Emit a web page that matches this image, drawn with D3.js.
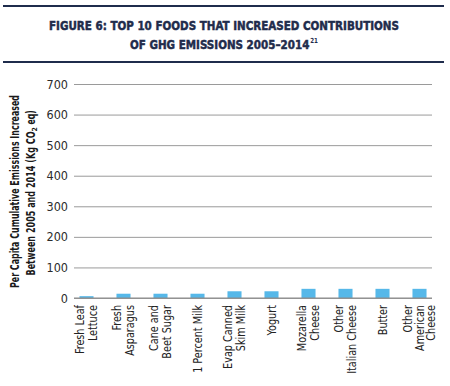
<!DOCTYPE html>
<html>
<head>
<meta charset="utf-8">
<script src="https://cdn.jsdelivr.net/npm/d3@7"></script>
<style>
  body { margin: 0; background: #fff; }
  text { font-family: "DejaVu Sans Condensed", "Liberation Sans Narrow", sans-serif; }
</style>
</head>
<body>
<div id="chart"></div>
<script>
var categories = ['Fresh Leaf\nLettuce', 'Fresh\nAsparagus', 'Cane and\nBeet Sugar', '1 Percent Milk',
    'Evap Canned\nSkim Milk', 'Yogurt', 'Mozarella\nCheese', 'Other\nItalian Cheese', 'Butter',
    'Other\nAmerican\nCheese'];
var values = [6, 14, 14, 14, 22, 22, 30, 30, 30, 30];
var yTicks = [0, 100, 200, 300, 400, 500, 600, 700];

var w = 450;
var h = 386;
var navy = '#1f2c4c';

var svg = d3.select('#chart')
    .append('svg')
        .attr('width', w)
        .attr('height', h);

svg.append('rect').attr('width', w).attr('height', h).style('fill', '#fff');

// title block with rules
svg.selectAll('line.rule')
    .data([6, 62])
    .enter()
    .append('line')
        .attr('x1', 3).attr('x2', 444)
        .attr('y1', d => d).attr('y2', d => d)
        .style('stroke', navy)
        .style('stroke-width', 2);

// squeeze horizontally so the title reads like a condensed face
var title = svg.append('g').attr('transform', 'translate(224,0) scale(0.885,1)');
title.append('text')
    .attr('y', 30)
    .attr('text-anchor', 'middle')
    .style('font-size', '13px').style('font-weight', 'bold').style('fill', navy)
    .style('stroke', navy).style('stroke-width', 0.5)
    .text('FIGURE 6: TOP 10 FOODS THAT INCREASED CONTRIBUTIONS');

var t2 = title.append('text')
    .attr('y', 49)
    .attr('text-anchor', 'middle')
    .style('font-size', '13px').style('font-weight', 'bold').style('fill', navy)
    .style('stroke', navy).style('stroke-width', 0.5);
t2.append('tspan').text('OF GHG EMISSIONS 2005–2014');
t2.append('tspan')
    .attr('dx', 1).attr('dy', -6)
    .style('font-size', '7px').style('stroke-width', 0)
    .text('21');

var x = d3.scaleBand()
    .domain(categories)
    .range([68, 438])
    .paddingInner(0.62)
    .paddingOuter(0.31);

var y = d3.scaleLinear()
    .domain([0, 700])
    .range([298, 84]);

var yAxis = svg.append('g')
    .attr('transform', 'translate(74,0)')
    .call(d3.axisLeft(y).tickValues(yTicks).tickSize(-358).tickPadding(6));
yAxis.select('.domain').remove();
yAxis.selectAll('line').style('stroke', '#9a9a9a');
yAxis.selectAll('text')
    .style('font-size', '12.5px')
    .style('fill', '#2b2b2b');

svg.selectAll('rect.bar')
    .data(values)
    .enter()
    .append('rect')
        .attr('class', 'bar')
        .attr('x', (d, i) => x(categories[i]))
        .attr('y', d => y(d))
        .attr('width', x.bandwidth())
        .attr('height', d => y(0) - y(d))
        .style('fill', '#56b8e9');

svg.append('line')
    .attr('x1', 74).attr('x2', 432)
    .attr('y1', y(0)).attr('y2', y(0))
    .style('stroke', '#8a8a8a');

// category labels, rotated, squeezed a bit to look condensed
categories.forEach(function(c) {
    var lines = c.split('\n');
    var lh = lines.length > 2 ? 11.5 : 13;
    var cx = x(c) + x.bandwidth() / 2;
    lines.forEach(function(l, i) {
        svg.append('text')
            .attr('transform', 'translate(' + (cx + (i - (lines.length - 1) / 2) * lh) + ',305) rotate(-90) scale(0.86,1)')
            .attr('text-anchor', 'end')
            .attr('dy', '0.35em')
            .style('font-size', '12.5px')
            .style('fill', '#222')
            .text(l);
    });
});

// y axis title
var yt = svg.append('g').attr('transform', 'translate(19,191.5) rotate(-90)');
yt.append('text')
    .attr('x', -96.5)
    .attr('textLength', 193).attr('lengthAdjust', 'spacingAndGlyphs')
    .style('font-size', '11.5px').style('font-weight', 'bold').style('fill', '#1a1a1a')
    .text('Per Capita Cumulative Emissions Increased');
var yt2 = yt.append('text')
    .attr('x', -84).attr('y', 16)
    .style('font-size', '11.5px').style('font-weight', 'bold').style('fill', '#1a1a1a');
yt2.append('tspan').attr('textLength', 144).attr('lengthAdjust', 'spacingAndGlyphs').text('Between 2005 and 2014 (Kg CO');
yt2.append('tspan').attr('dy', 2).style('font-size', '7px').text('2');
yt2.append('tspan').attr('dy', -2).attr('textLength', 17).attr('lengthAdjust', 'spacingAndGlyphs').text(' eq)');
</script>
</body>
</html>
